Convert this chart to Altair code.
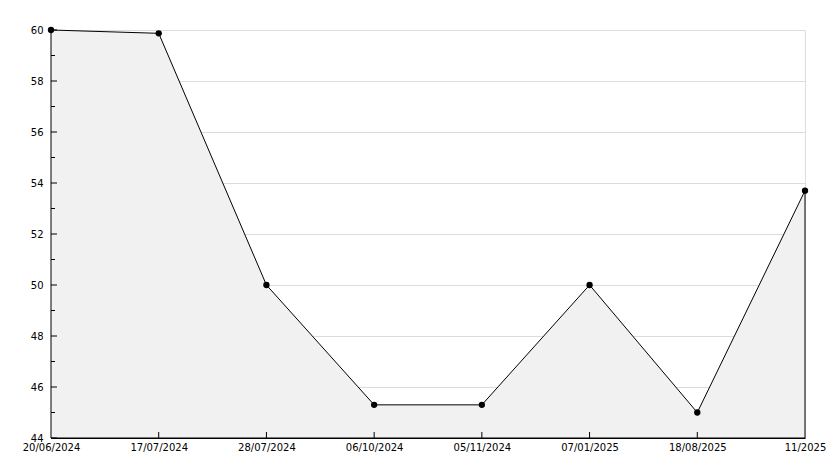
import altair as alt
import pandas as pd

labels = ["20/06/2024", "17/07/2024", "28/07/2024", "06/10/2024",
          "05/11/2024", "07/01/2025", "18/08/2025", "11/2025"]
values = [60.0, 59.87, 50.0, 45.3, 45.3, 50.0, 45.0, 53.7]
y_major = [44, 46, 48, 50, 52, 54, 56, 58, 60]
y_minor = [45, 47, 49, 51, 53, 55, 57, 59]
y_base = 44

df = pd.DataFrame({"date": labels, "value": values, "base": [y_base] * len(labels)})
df_major = pd.DataFrame({"v": y_major})
df_minor = pd.DataFrame({"v": y_minor})
df_xt = pd.DataFrame({"date": labels[1:-1]})

W, H = 754, 408
FONT = "DejaVu Sans"

xscale = alt.Scale(type="point", domain=labels, padding=0)
yscale = alt.Scale(domain=[44, 60], nice=False, zero=False)

x_enc = alt.X("date:N", sort=labels, scale=xscale,
              axis=alt.Axis(title=None, labelAngle=0, ticks=False, tickSize=0,
                            labelPadding=4, labelOverlap=False, labelBound=False,
                            labelFont=FONT, labelFontSize=10, labelColor="black",
                            domainColor="black", grid=False, zindex=1))
y_enc = alt.Y("value:Q", scale=yscale,
              axis=alt.Axis(title=None, values=y_major, ticks=False, tickSize=0,
                            labelPadding=8, labelFont=FONT, labelFontSize=10,
                            labelColor="black", domainColor="black",
                            grid=True, gridColor="#dcdcdc", gridWidth=1))

area = alt.Chart(df).mark_area(fill="#f1f1f1", stroke="black", strokeWidth=1).encode(
    x=x_enc, y=y_enc, y2="base:Q")

points = alt.Chart(df).mark_point(filled=True, color="black", size=40, opacity=1,
                                  shape="circle").encode(
    x=alt.X("date:N", sort=labels, scale=xscale),
    y=alt.Y("value:Q", scale=yscale))

major_ticks = alt.Chart(df_major).mark_rule(color="black", strokeWidth=1).encode(
    y=alt.Y("v:Q", scale=yscale), x=alt.value(0), x2=alt.value(6))
minor_ticks = alt.Chart(df_minor).mark_rule(color="black", strokeWidth=1).encode(
    y=alt.Y("v:Q", scale=yscale), x=alt.value(0), x2=alt.value(4))
x_ticks = alt.Chart(df_xt).mark_rule(color="black", strokeWidth=1).encode(
    x=alt.X("date:N", sort=labels, scale=xscale), y=alt.value(H), y2=alt.value(H - 6))

chart = alt.layer(area, major_ticks, minor_ticks, x_ticks, points).properties(
    width=W, height=H,
    autosize=alt.AutoSizeParams(type="none"),
    padding={"left": 43, "top": 22, "right": 21, "bottom": 28},
).configure_view(stroke=None).configure(background="white")

chart.save("out.html", embed_options={"renderer": "svg", "actions": False})
